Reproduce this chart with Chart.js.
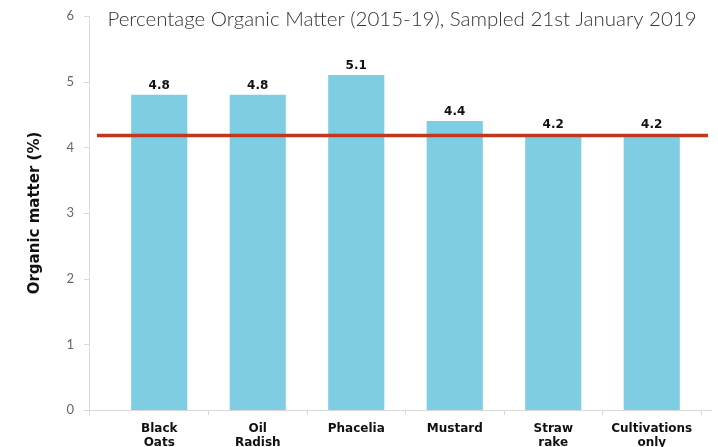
<!DOCTYPE html>
<html>
<head>
<meta charset="utf-8">
<script src="https://cdn.jsdelivr.net/npm/chart.js@4.4.0/dist/chart.umd.min.js"></script>
<style>
  html, body { margin: 0; padding: 0; background: #fff; }
  #wrap { width: 718px; height: 447px; position: relative; }
</style>
</head>
<body>
<div id="wrap"><canvas id="omChart"></canvas></div>
<script>
// categories + values
const categories = [["Black", "Oats"], ["Oil", "Radish"], ["Phacelia"], ["Mustard"], ["Straw", "rake"], ["Cultivations", "only"]];
const organicMatter = [4.8, 4.8, 5.1, 4.4, 4.2, 4.2];
const referenceLevel = 4.18; // red line
const yTicks = [0, 1, 2, 3, 4, 5, 6];
const subtitle = "Percentage Organic Matter (2015-19), Sampled 21st January 2019";

const FONT = "Lato, 'Open Sans', sans-serif";
const BOLD = "'DejaVu Sans', Verdana, sans-serif";

// value labels, red line, y axis line, subtitle
const extras = {
    id: "extras",
    afterDatasetsDraw(chart) {
        const { ctx, chartArea, scales } = chart;
        const meta = chart.getDatasetMeta(0);

        ctx.save();
        // value labels
        ctx.font = "bold 12px " + BOLD;
        ctx.fillStyle = "#111";
        ctx.textAlign = "center";
        ctx.textBaseline = "alphabetic";
        meta.data.forEach((bar, i) => {
            ctx.fillText(organicMatter[i].toFixed(1), bar.x, bar.y - 6);
        });

        // red line
        const ry = scales.y.getPixelForValue(referenceLevel);
        ctx.strokeStyle = "#C0391F";
        ctx.lineWidth = 3.5;
        ctx.beginPath();
        ctx.moveTo(chartArea.left - 13, ry);
        ctx.lineTo(chartArea.right + 7, ry);
        ctx.stroke();

        // y axis line sits left of the plot area
        const ax = chartArea.left - 21;
        ctx.strokeStyle = "#D9D9D9";
        ctx.lineWidth = 1;
        ctx.beginPath();
        ctx.moveTo(ax + 0.5, chartArea.top);
        ctx.lineTo(ax + 0.5, chartArea.bottom);
        yTicks.forEach((t) => {
            const ty = Math.round(scales.y.getPixelForValue(t)) + 0.5;
            ctx.moveTo(ax - 5, ty);
            ctx.lineTo(ax + 0.5, ty);
        });
        // x baseline extended to the left axis and right edge
        const by = Math.round(chartArea.bottom) + 0.5;
        ctx.moveTo(ax, by);
        ctx.lineTo(chartArea.right + 11, by);
        ctx.moveTo(ax + 0.5, by);
        ctx.lineTo(ax + 0.5, by + 5);
        ctx.stroke();

        // subtitle
        ctx.font = "300 20.5px " + FONT;
        ctx.fillStyle = "#333";
        ctx.textAlign = "center";
        ctx.fillText(subtitle, 402, 26);
        ctx.restore();
    },
};

const ctx = document.getElementById("omChart").getContext("2d");
const chart = new Chart(ctx, {
    type: "bar",
    data: {
        labels: categories,
        datasets: [
            {
                data: organicMatter,
                backgroundColor: "#7FCDE2",
                borderWidth: 0,
                barPercentage: 0.57,
                categoryPercentage: 1,
            },
        ],
    },
    options: {
        responsive: true,
        maintainAspectRatio: false,
        animation: false,
        layout: { padding: { top: 16, right: 17, left: 0, bottom: 0 } },
        plugins: {
            legend: { display: false },
            tooltip: { enabled: false },
        },
        scales: {
            x: {
                grid: {
                    offset: true,
                    drawOnChartArea: false,
                    tickLength: 5,
                    color: (c) => (c.index === 0 ? "rgba(0,0,0,0)" : "#D9D9D9"),
                },
                border: { display: false },
                ticks: {
                    padding: 7,
                    color: "#111",
                    font: { family: BOLD, size: 12, weight: "bold", lineHeight: 1.15 },
                    maxRotation: 0,
                    autoSkip: false,
                },
                afterFit: (s) => { s.height = 37; },
            },
            y: {
                min: 0,
                max: 6,
                ticks: {
                    stepSize: 1,
                    padding: 2,
                    color: "#666",
                    font: { family: FONT, size: 13 },
                },
                // hidden grid; tickLength only pushes the labels left
                grid: { display: false, tickLength: 34 },
                border: { display: false },
                title: {
                    display: true,
                    text: "Organic matter (%)",
                    color: "#111",
                    font: { family: BOLD, size: 15, weight: "bold" },
                    padding: { top: 26, bottom: 0 },
                },
                afterFit: (s) => { s.width = 110; },
            },
        },
    },
    plugins: [extras],
});
</script>
</body>
</html>
